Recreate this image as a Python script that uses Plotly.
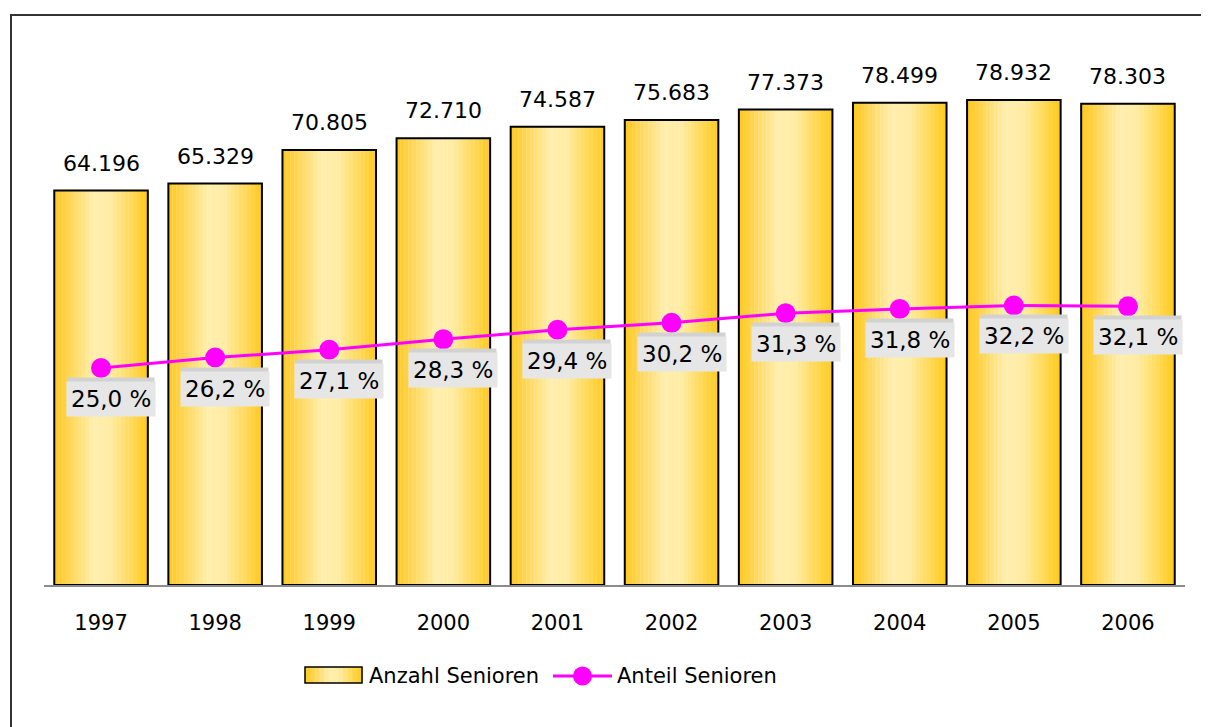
import plotly.graph_objects as go

years = ["1997", "1998", "1999", "2000", "2001", "2002", "2003", "2004", "2005", "2006"]
anzahl = [64196, 65329, 70805, 72710, 74587, 75683, 77373, 78499, 78932, 78303]
anteil = [25.0, 26.2, 27.1, 28.3, 29.4, 30.2, 31.3, 31.8, 32.2, 32.1]

FONT = "DejaVu Sans"
BAR_W = 0.82
N_STRIPS = 24
stops = [(0.0, (255, 200, 30)), (0.42, (255, 238, 175)), (0.6, (255, 236, 165)), (1.0, (255, 202, 25))]

W, H = 1209, 727
OFF = 8  # page body margin
# plot area in screen pixels
PL, PR, PT, PB = 44, 1185, 32, 585


def px(x):
    return (x - PL) / (PR - PL)


def py(y):
    return (PB - y) / (PB - PT)


def grad(t):
    for (t0, c0), (t1, c1) in zip(stops[:-1], stops[1:]):
        if t0 <= t <= t1:
            f = (t - t0) / (t1 - t0)
            return "rgb(%d,%d,%d)" % tuple(round(a + (b - a) * f) for a, b in zip(c0, c1))
    return "rgb(%d,%d,%d)" % stops[-1][1]


xpos = list(range(len(years)))

fig = go.Figure()
sw = BAR_W / N_STRIPS
for i in range(N_STRIPS):
    fig.add_trace(go.Bar(
        x=xpos, y=anzahl, offset=-BAR_W / 2 + i * sw, width=sw * 1.08,
        marker=dict(color=grad((i + 0.5) / N_STRIPS), line=dict(width=0)),
        showlegend=False, hoverinfo="skip"))

# outline
fig.add_trace(go.Bar(
    x=xpos, y=anzahl, offset=-BAR_W / 2, width=BAR_W,
    marker=dict(color="rgba(0,0,0,0)", line=dict(color="black", width=2)),
    showlegend=False, hoverinfo="skip", name="Anzahl Senioren"))

fig.add_trace(go.Scatter(
    x=xpos, y=anteil, yaxis="y2", name="Anteil Senioren", mode="lines+markers",
    line=dict(color="#FF00FF", width=3), marker=dict(color="#FF00FF", size=20),
    showlegend=False))

for xv, v in zip(xpos, anzahl):
    fig.add_annotation(x=xv, y=v, yref="y", text=f"{v:,}".replace(",", "."),
                       showarrow=False, yanchor="bottom", yshift=13,
                       font=dict(family=FONT, size=22, color="black"))

for xv, p in zip(xpos, anteil):
    # thin grey strip above the label box
    fig.add_annotation(x=xv, y=p, yref="y2", text="", width=86, height=4,
                       showarrow=False, yanchor="middle", yshift=-12, xshift=10,
                       bgcolor="#D2D2D2", borderpad=0)
    fig.add_annotation(x=xv, y=p, yref="y2", text=f"{p:.1f} %".replace(".", ","),
                       showarrow=False, yanchor="middle", yshift=-31, xshift=10,
                       bgcolor="#E6E6E6", borderpad=4,
                       font=dict(family=FONT, size=23, color="black"))

# frame around the chart
fig.add_shape(type="rect", xref="paper", yref="paper",
              x0=px(11), x1=px(1225), y0=py(745), y1=py(15),
              line=dict(color="#333333", width=2), fillcolor="rgba(0,0,0,0)", layer="below")

# custom legend
LX0, LX1, LY0, LY1 = 305, 362, 667, 683
n_leg = 12
for i in range(n_leg):
    a = LX0 + (LX1 - LX0) * i / n_leg
    b = LX0 + (LX1 - LX0) * (i + 1) / n_leg + 0.6
    fig.add_shape(type="rect", xref="paper", yref="paper",
                  x0=px(a), x1=px(b), y0=py(LY1), y1=py(LY0),
                  line=dict(width=0), fillcolor=grad((i + 0.5) / n_leg))
fig.add_shape(type="rect", xref="paper", yref="paper",
              x0=px(LX0), x1=px(LX1), y0=py(LY1), y1=py(LY0),
              line=dict(color="black", width=1.5), fillcolor="rgba(0,0,0,0)")
fig.add_annotation(xref="paper", yref="paper", x=px(367), y=py(676), xanchor="left",
                   yanchor="middle", showarrow=False, text="Anzahl Senioren",
                   font=dict(family=FONT, size=21, color="black"))
fig.add_shape(type="line", xref="paper", yref="paper",
              x0=px(553), x1=px(612), y0=py(676), y1=py(676),
              line=dict(color="#FF00FF", width=3))
fig.add_shape(type="circle", xref="paper", yref="paper",
              x0=px(573), x1=px(592), y0=py(685.5), y1=py(666.5),
              line=dict(width=0), fillcolor="#FF00FF")
fig.add_annotation(xref="paper", yref="paper", x=px(615), y=py(676), xanchor="left",
                   yanchor="middle", showarrow=False, text="Anteil Senioren",
                   font=dict(family=FONT, size=21, color="black"))

fig.update_layout(
    width=W, height=H,
    margin=dict(l=PL - OFF, r=W - (PR - OFF), t=PT - OFF, b=H - (PB - OFF)),
    paper_bgcolor="white", plot_bgcolor="white",
    barmode="overlay",
    showlegend=False,
    font=dict(family=FONT, size=21, color="black"),
    xaxis=dict(range=[-0.5, len(years) - 0.5], tickvals=xpos, ticktext=years,
               showline=True, linecolor="#8C8C8C", linewidth=2,
               ticks="", showgrid=False, zeroline=False, ticklabelstandoff=18,
               tickfont=dict(family=FONT, size=21, color="black")),
    yaxis=dict(range=[0, 90000], visible=False, showgrid=False),
    yaxis2=dict(range=[0, 63.7], overlaying="y", visible=False, showgrid=False),
)

fig.write_html("out.html")
